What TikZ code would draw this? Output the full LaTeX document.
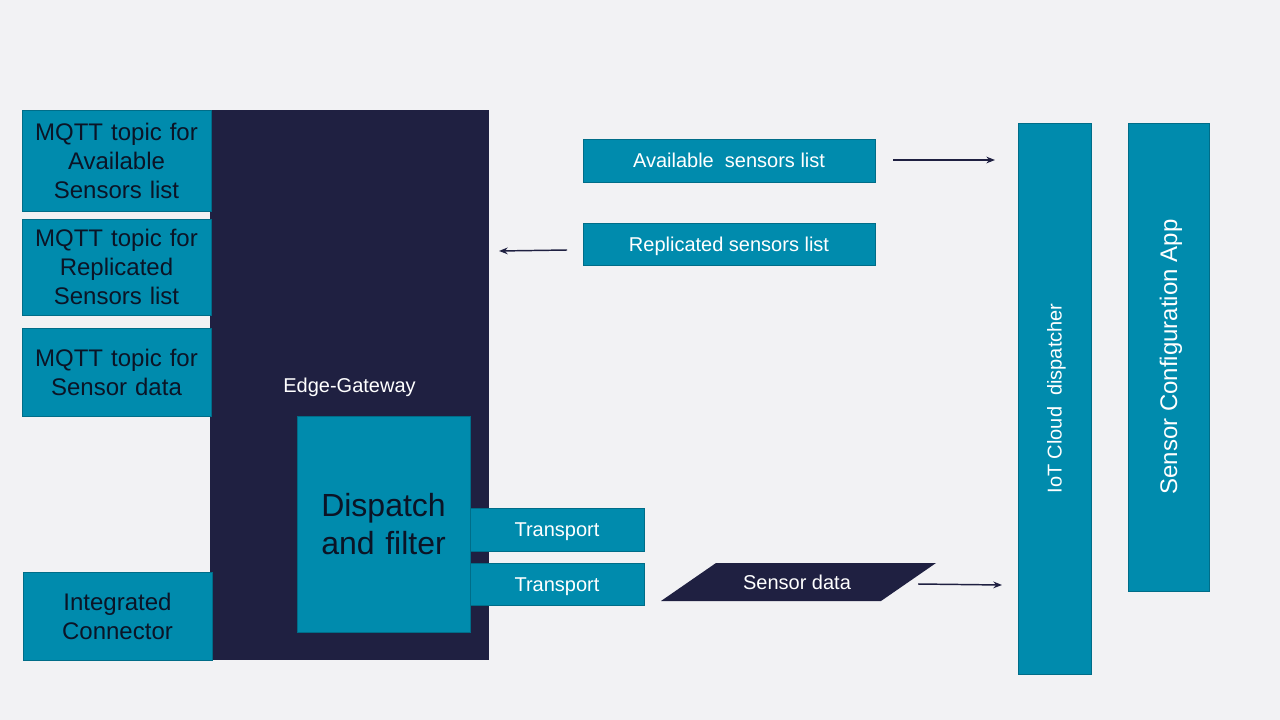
\documentclass[tikz,border=0pt]{standalone}
\usepackage{fontspec}
\setmainfont{Liberation Sans}
\usetikzlibrary{arrows.meta}
\definecolor{bg}{HTML}{F2F2F4}
\definecolor{teal}{HTML}{008BAD}
\definecolor{tealedge}{HTML}{006D88}
\definecolor{navy}{HTML}{1F2041}
\definecolor{inktext}{HTML}{0B1426}
\tikzset{
  tealbox/.style={draw=tealedge, line width=0.6pt, fill=teal, inner sep=0pt, align=center},
  darktext/.style={text=inktext, font=\fontsize{18}{21.75}\selectfont},
  whitetext/.style={text=white, font=\fontsize{15}{18}\selectfont, text height=10.7pt, text depth=0pt},
  flow/.style={draw=navy, line width=1.1pt, -{Stealth[length=6.5pt,width=5pt]}}
}
\begin{document}
\begin{tikzpicture}[x=0.75pt,y=-0.75pt]
\fill[bg] (0,0) rectangle (1280,720);
\useasboundingbox (0,0) rectangle (1280,720);

% Edge gateway
\node[fill=navy, inner sep=0pt, minimum width=209.25pt, minimum height=412.5pt, whitetext] (edge) at (349.5,385) {Edge-Gateway};

% MQTT topic boxes
\node[tealbox, darktext, minimum width=141.75pt, minimum height=75.75pt, text width=141.75pt] (mqtta) at (116.5,160.5) {MQTT topic for\\Available\\Sensors list};
\node[tealbox, darktext, minimum width=141.75pt, minimum height=72pt, text width=141.75pt] (mqttr) at (116.5,267) {MQTT topic for\\Replicated\\Sensors list};
\node[tealbox, darktext, minimum width=141.75pt, minimum height=66pt, text width=141.75pt] (mqtts) at (116.5,372) {MQTT topic for\\Sensor data};
\node[tealbox, darktext, minimum width=141.75pt, minimum height=66pt, text width=141.75pt] (integ) at (117.5,616) {Integrated\\Connector};

% Dispatch and filter
\node[tealbox, text=inktext, font=\fontsize{24}{29}\selectfont, minimum width=129.75pt, minimum height=162pt, text width=129.75pt] (disp) at (383.5,524) {Dispatch\\and filter};

% Transports
\node[tealbox, whitetext, minimum width=130.5pt, minimum height=32.25pt] (tr1) at (557,529.5) {Transport};
\node[tealbox, whitetext, minimum width=130.5pt, minimum height=31.5pt] (tr2) at (557,584) {Transport};

% Lists
\node[tealbox, whitetext, minimum width=219pt, minimum height=32.25pt] (avail) at (729,160.5) {Available\ \ sensors list};
\node[tealbox, whitetext, minimum width=219pt, minimum height=31.5pt] (repl) at (729,244) {Replicated sensors list};

% Cloud side
\node[tealbox, whitetext, rotate=90, minimum width=413.25pt, minimum height=54.75pt] (iot) at (1054.5,398.5) {IoT Cloud\ \ dispatcher};
\node[tealbox, text=white, font=\fontsize{18}{21.75}\selectfont, text height=12.9pt, text depth=0pt, rotate=90, minimum width=351pt, minimum height=60.75pt] (sca) at (1168.5,357) {Sensor Configuration App};

% Sensor data parallelogram
\fill[navy] (661,601) -- (716,563) -- (936,563) -- (881,601) -- cycle;
\node[whitetext, inner sep=0pt] (sdata) at (797,582) {Sensor data};

% Arrow endpoints
\coordinate (a1s) at (893,160);
\coordinate (a1e) at (995,160);
\coordinate (a2s) at (567,250);
\coordinate (a2e) at (499,251);
\coordinate (a3s) at (918,584);
\coordinate (a3e) at (1002,585);

\draw[flow] (a1s) -- (a1e);
\draw[flow] (a2s) -- (a2e);
\draw[flow] (a3s) -- (a3e);
\end{tikzpicture}
\end{document}
